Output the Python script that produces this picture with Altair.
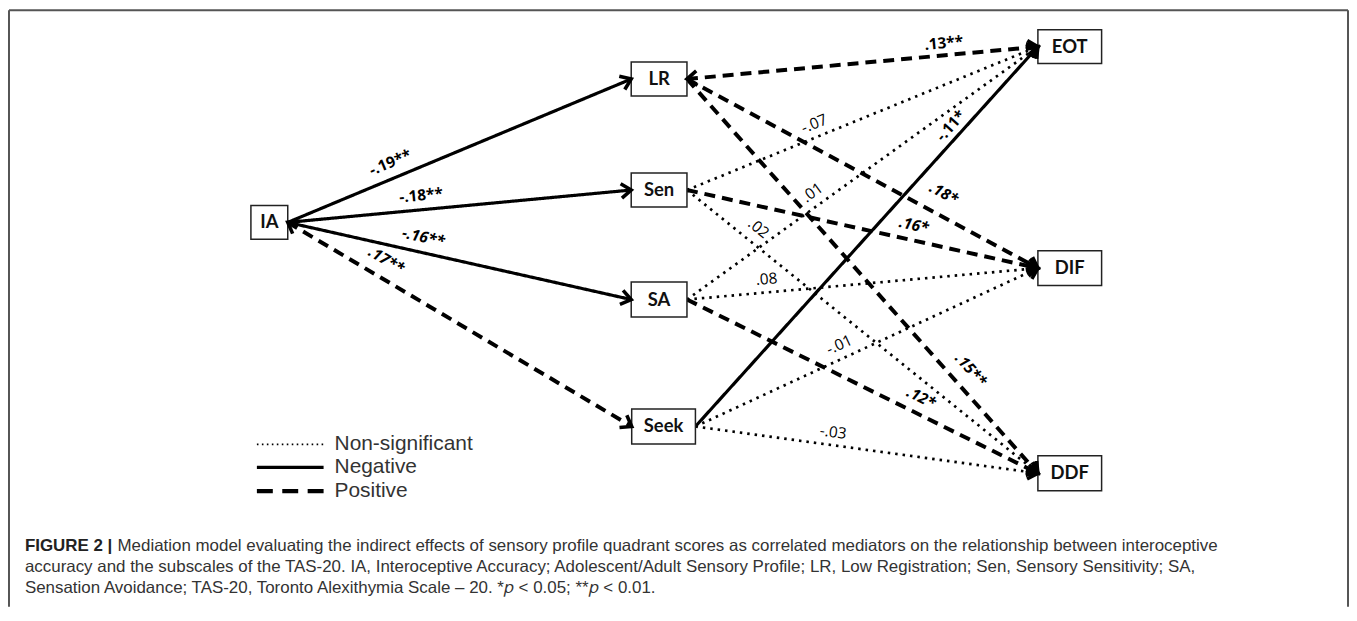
import math
import altair as alt
import pandas as pd

# ---------------- data ----------------
nodes = ["IA", "LR", "Sen", "SA", "Seek", "EOT", "DIF", "DDF"]

edge_source = ["IA", "IA", "IA", "IA",
               "LR", "LR", "LR",
               "Sen", "Sen", "Sen",
               "SA", "SA", "SA",
               "Seek", "Seek", "Seek"]
edge_target = ["LR", "Sen", "SA", "Seek",
               "EOT", "DIF", "DDF",
               "EOT", "DIF", "DDF",
               "EOT", "DIF", "DDF",
               "EOT", "DIF", "DDF"]
edge_label = ["-.19**", "-.18**", "-.16**", ".17**",
              ".13**", ".18*", ".15**",
              "-.07", ".16*", ".02",
              ".01", ".08", ".12*",
              "-.11*", "-.01", "-.03"]
edge_type = ["Negative", "Negative", "Negative", "Positive",
             "Positive", "Positive", "Positive",
             "Non-significant", "Positive", "Non-significant",
             "Non-significant", "Non-significant", "Positive",
             "Negative", "Non-significant", "Non-significant"]
label_style = ["b", "b", "bi", "bi",
               "b", "bi", "bi",
               "n", "bi", "n",
               "n", "n", "bi",
               "b", "n", "n"]
double_headed = [("IA", "Seek"), ("LR", "EOT")]

legend_items = ["Non-significant", "Negative", "Positive"]

caption_bold = "FIGURE 2 |"
caption_lines = [
    "Mediation model evaluating the indirect effects of sensory profile quadrant scores as correlated mediators on the relationship between interoceptive",
    "accuracy and the subscales of the TAS-20. IA, Interoceptive Accuracy; Adolescent/Adult Sensory Profile; LR, Low Registration; Sen, Sensory Sensitivity; SA,",
    "Sensation Avoidance; TAS-20, Toronto Alexithymia Scale \u2013 20. *\U0001D45D < 0.05; **\U0001D45D < 0.01.",
]

# ---------------- layout (page pixel coordinates) ----------------
node_x = [270.5, 662, 662, 662, 666.5, 1074.5, 1074.5, 1074.5]
node_y = [222, 78, 189.5, 299.5, 427, 45.5, 268, 474]
node_w = [37, 56, 56, 56, 64, 64, 64, 64]
node_h = [34, 34, 34, 35, 35, 34, 35, 35]
label_t = [0.316, 0.392, 0.385, 0.26,
           0.735, 0.703, 0.769,
           0.377, 0.637, 0.177,
           0.38, 0.23, 0.647,
           0.771, 0.437, 0.397]
label_off = [15.7, 14.3, 15.2, 17.9,
             12.1, 21.2, 18.7,
             13.2, 15.0, 15.3,
             13.5, 13.3, 16.0,
             11.7, 13.8, 12.9]
legend_x0, legend_x1, legend_text_x = 258, 325, 336
legend_y = [445, 468, 492]
cap_x, cap_y, cap_rest_dx, cap_dy = 25, 547, 93, 21

W, H = 1347, 600
X0, Y0 = 8, 8

pos = {n: (x, y, w, h) for n, x, y, w, h in zip(nodes, node_x, node_y, node_w, node_h)}

node_df = pd.DataFrame({
    "name": nodes,
    "x": node_x, "y": node_y,
    "x1": [x - w / 2 for x, w in zip(node_x, node_w)],
    "x2": [x + w / 2 for x, w in zip(node_x, node_w)],
    "y1": [y - h / 2 for y, h in zip(node_y, node_h)],
    "y2": [y + h / 2 for y, h in zip(node_y, node_h)],
})

edge_rows, label_rows, arrow_rows = [], [], []
for s, t, lab, typ, sty, lt, lo in zip(edge_source, edge_target, edge_label, edge_type,
                                       label_style, label_t, label_off):
    sx = pos[s][0] + pos[s][2] / 2
    sy = pos[s][1]
    ex = pos[t][0] - pos[t][2] / 2
    ey = pos[t][1]
    dx, dy = ex - sx, ey - sy
    L = math.hypot(dx, dy)
    nx, ny = dy / L, -dx / L
    ang = math.degrees(math.atan2(dy, dx))
    edge_rows.append({"x": sx, "y": sy, "x2": ex, "y2": ey, "type": typ})
    label_rows.append({"x": sx + lt * dx + lo * nx, "y": sy + lt * dy + lo * ny,
                       "text": lab, "style": sty, "ang": ang % 360})
    arrow_rows.append({"x": ex, "y": ey, "ang": ang % 360})
    if (s, t) in double_headed:
        arrow_rows.append({"x": sx, "y": sy, "ang": (ang + 180) % 360})

edge_df = pd.DataFrame(edge_rows)
label_df = pd.DataFrame(label_rows)
arrow_df = pd.DataFrame(arrow_rows)

legend_df = pd.DataFrame({
    "type": legend_items,
    "x": [legend_x0] * 3, "x2": [legend_x1] * 3,
    "tx": [legend_text_x] * 3,
    "y": legend_y,
})

cap_df = pd.DataFrame({
    "text": caption_lines,
    "x": [cap_x, cap_x, cap_x],
    "y": [cap_y + i * cap_dy for i in range(3)],
})
cap_df.loc[0, "x"] = cap_x + cap_rest_dx
capb_df = pd.DataFrame({"text": [caption_bold], "x": [cap_x], "y": [cap_y]})

xs = alt.Scale(domain=[X0, X0 + W], nice=False, zero=False)
ys = alt.Scale(domain=[Y0, Y0 + H], nice=False, zero=False, reverse=True)

def X(f="x"):
    return alt.X(f + ":Q", scale=xs, axis=None)

def Y(f="y"):
    return alt.Y(f + ":Q", scale=ys, axis=None)

DASH = {"Negative": [1, 0], "Positive": [11, 7], "Non-significant": [2.5, 5]}
WID = {"Negative": 3.2, "Positive": 4, "Non-significant": 2.7}

layers = []

# frame
frame = alt.Chart(pd.DataFrame({"a": [0]})).mark_rule(color="#555555", strokeWidth=2)
layers.append(frame.encode(x=alt.value(1), x2=alt.value(W - 1), y=alt.value(1), y2=alt.value(1)))
layers.append(frame.encode(x=alt.value(1), x2=alt.value(1), y=alt.value(1), y2=alt.value(H)))
layers.append(frame.encode(x=alt.value(W - 1), x2=alt.value(W - 1), y=alt.value(1), y2=alt.value(H)))

# edges
for typ in ["Non-significant", "Positive", "Negative"]:
    layers.append(
        alt.Chart(edge_df).transform_filter(alt.datum.type == typ)
        .mark_rule(color="black", strokeWidth=WID[typ], strokeDash=DASH[typ])
        .encode(x=X(), y=Y(), x2="x2:Q", y2="y2:Q")
    )

# boxes
layers.append(
    alt.Chart(node_df).mark_rect(fill="white", stroke="#222222", strokeWidth=1.5)
    .encode(x=X("x1"), x2="x2:Q", y=Y("y1"), y2="y2:Q")
)
layers.append(
    alt.Chart(node_df).mark_text(font="Lato", fontSize=18.5, fontWeight="bold", color="#111111")
    .encode(x=X(), y=Y(), text="name:N")
)

# arrowheads
ARROW = "M-1,-0.72L0,0L-1,0.72"
layers.append(
    alt.Chart(arrow_df).mark_point(shape=ARROW, size=400, filled=False, strokeWidth=3.6,
                                   color="black", opacity=1, strokeJoin="miter")
    .encode(x=X(), y=Y(), angle=alt.Angle("ang:Q", scale=None))
)

# edge labels
STY = {"b": dict(fontWeight="bold", fontStyle="normal"),
       "bi": dict(fontWeight="bold", fontStyle="italic"),
       "n": dict(fontWeight="normal", fontStyle="normal")}
for k, st in STY.items():
    layers.append(
        alt.Chart(label_df).transform_filter(alt.datum.style == k)
        .mark_text(font="Open Sans", fontSize=15.5, color="black", align="center", baseline="middle", **st)
        .encode(x=X(), y=Y(), text="text:N", angle=alt.Angle("ang:Q", scale=None))
    )

# legend
LWID = {"Negative": 3.2, "Positive": 4.2, "Non-significant": 1.6}
LDASH = {"Negative": [1, 0], "Positive": [16, 9.5], "Non-significant": [1.6, 3.4]}
for typ in legend_items:
    layers.append(
        alt.Chart(legend_df).transform_filter(alt.datum.type == typ)
        .mark_rule(color="black", strokeWidth=LWID[typ], strokeDash=LDASH[typ])
        .encode(x=X(), x2="x2:Q", y=Y(), y2="y:Q")
    )
layers.append(
    alt.Chart(legend_df).mark_text(font="Liberation Sans", fontSize=21, color="#333333",
                                   align="left", baseline="middle")
    .encode(x=X("tx"), y=Y(), text="type:N")
)

# caption
layers.append(
    alt.Chart(capb_df).mark_text(font="Liberation Sans", fontSize=17, fontWeight="bold",
                                 color="#222222", align="left", baseline="middle")
    .encode(x=X(), y=Y(), text="text:N")
)
layers.append(
    alt.Chart(cap_df).mark_text(font="Liberation Sans", fontSize=17, color="#333333",
                                align="left", baseline="middle")
    .encode(x=X(), y=Y(), text="text:N")
)

chart = alt.layer(*layers).properties(
    width=W, height=H,
    autosize=alt.AutoSizeParams(type="none"),
    padding=0,
).configure_view(stroke=None)

chart.save("out.html", embed_options={"renderer": "svg", "actions": False})
